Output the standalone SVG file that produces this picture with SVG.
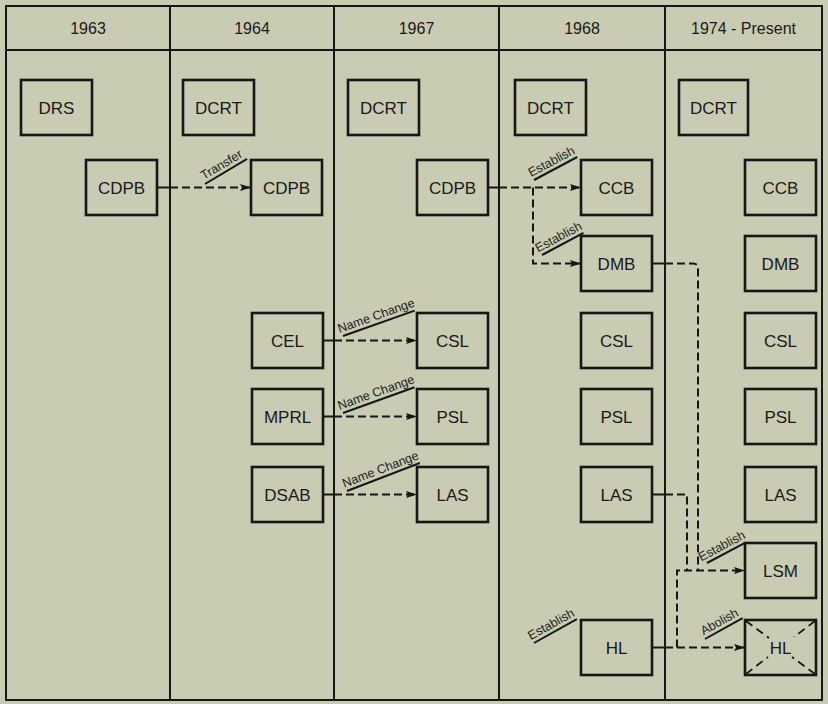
<svg xmlns="http://www.w3.org/2000/svg" width="828" height="704" viewBox="0 0 828 704">
<style>
.bg{fill:#c9cbb2}
.frame{fill:none;stroke:#161616;stroke-width:2}
.col{stroke:#161616;stroke-width:2}
.box{fill:none;stroke:#161616;stroke-width:2.6}
.hd{font-family:"Liberation Sans",Arial,sans-serif;font-size:16px;fill:#1a1a1a;text-anchor:middle}
.nt{font-family:"Liberation Sans",Arial,sans-serif;font-size:17px;fill:#1a1a1a;text-anchor:middle}
.lt{font-family:"Liberation Sans",Arial,sans-serif;font-size:12.5px;fill:#222;text-anchor:middle}
.ll{stroke:#161616;stroke-width:2}
.stub{stroke:#161616;stroke-width:2;fill:none}
.dash{stroke:#161616;stroke-width:2;fill:none;stroke-dasharray:8 4}
.xd{stroke:#161616;stroke-width:1.8;stroke-dasharray:8 5}
</style>
<defs>
<marker id="arr" viewBox="0 0 11 8" refX="11" refY="4" markerWidth="11" markerHeight="8" markerUnits="userSpaceOnUse" orient="auto">
<path d="M0,0.5 L11,4 L0,7.5 L2,4 z" fill="#161616"/>
</marker>
</defs>
<rect class="bg" x="0" y="0" width="828" height="704"/>
<g id="frame">
<rect class="frame" x="6" y="6" width="816" height="694"/>
<line class="col" x1="6" y1="50" x2="822" y2="50"/>
<line class="col" x1="170" y1="6" x2="170" y2="700"/>
<line class="col" x1="334" y1="6" x2="334" y2="700"/>
<line class="col" x1="499" y1="6" x2="499" y2="700"/>
<line class="col" x1="665" y1="6" x2="665" y2="700"/>
<text class="hd" x="88" y="34">1963</text>
<text class="hd" x="252" y="34">1964</text>
<text class="hd" x="416.5" y="34">1967</text>
<text class="hd" x="582" y="34">1968</text>
<text class="hd" x="743.5" y="34">1974 - Present</text>
</g>
<g id="connectors">
<path class="stub" d="M157,187.5 H170"/>
<path class="dash" d="M170,187.5 H251" marker-end="url(#arr)"/>
<path class="stub" d="M488,187.5 H499"/>
<path class="dash" d="M499,187.5 H581" marker-end="url(#arr)"/>
<path class="dash" d="M533,187.5 V263.5 H581" marker-end="url(#arr)"/>
<path class="stub" d="M323,340.5 H334"/>
<path class="dash" d="M334,340.5 H417" marker-end="url(#arr)"/>
<path class="stub" d="M323,416.5 H334"/>
<path class="dash" d="M334,416.5 H417" marker-end="url(#arr)"/>
<path class="stub" d="M323,494.5 H334"/>
<path class="dash" d="M334,494.5 H417" marker-end="url(#arr)"/>
<path class="stub" d="M652,263.5 H665"/>
<path class="dash" d="M665,263.5 H693 Q698,263.5 698,268.5 V570.5"/>
<path class="stub" d="M652,494.5 H665"/>
<path class="dash" d="M665,494.5 H687 V570.5"/>
<path class="stub" d="M652,647.5 H665"/>
<path class="dash" d="M665,647.5 H745" marker-end="url(#arr)"/>
<path class="dash" d="M677,647.5 V570.5 H745" marker-end="url(#arr)"/>
</g>
<g id="labels">
<g transform="translate(205,184) rotate(-30.8)"><line class="ll" x1="0" y1="0" x2="49" y2="0"/><text class="lt" x="24" y="-4">Transfer</text></g>
<g transform="translate(534,180) rotate(-28)"><line class="ll" x1="0" y1="0" x2="49" y2="0"/><text class="lt" x="24" y="-4">Establish</text></g>
<g transform="translate(542,255) rotate(-28)"><line class="ll" x1="0" y1="0" x2="47" y2="0"/><text class="lt" x="23" y="-4">Establish</text></g>
<g transform="translate(343,336) rotate(-19.5)"><line class="ll" x1="0" y1="0" x2="76" y2="0"/><text class="lt" x="38" y="-4">Name Change</text></g>
<g transform="translate(343,413) rotate(-19.8)"><line class="ll" x1="0" y1="0" x2="76" y2="0"/><text class="lt" x="38" y="-4">Name Change</text></g>
<g transform="translate(347,491) rotate(-21)"><line class="ll" x1="0" y1="0" x2="78" y2="0"/><text class="lt" x="39" y="-4">Name Change</text></g>
<g transform="translate(707,563) rotate(-28)"><line class="ll" x1="0" y1="0" x2="43" y2="0"/><text class="lt" x="21" y="-4">Establish</text></g>
<g transform="translate(705,639) rotate(-29)"><line class="ll" x1="0" y1="0" x2="43" y2="0"/><text class="lt" x="21" y="-4">Abolish</text></g>
<g transform="translate(534,643) rotate(-29)"><line class="ll" x1="0" y1="0" x2="49" y2="0"/><text class="lt" x="24" y="-4">Establish</text></g>
</g>
<g id="n1963-DRS"><rect class="box" x="21" y="80" width="71" height="55"/><text class="nt" x="56.5" y="114">DRS</text></g>
<g id="n1963-CDPB"><rect class="box" x="86" y="160" width="71" height="55"/><text class="nt" x="121.5" y="194">CDPB</text></g>
<g id="n1964-DCRT"><rect class="box" x="183" y="80" width="71" height="55"/><text class="nt" x="218.5" y="114">DCRT</text></g>
<g id="n1964-CDPB"><rect class="box" x="251" y="160" width="71" height="55"/><text class="nt" x="286.5" y="194">CDPB</text></g>
<g id="n1964-CEL"><rect class="box" x="252" y="313" width="71" height="55"/><text class="nt" x="287.5" y="347">CEL</text></g>
<g id="n1964-MPRL"><rect class="box" x="252" y="389" width="71" height="55"/><text class="nt" x="287.5" y="423">MPRL</text></g>
<g id="n1964-DSAB"><rect class="box" x="252" y="467" width="71" height="55"/><text class="nt" x="287.5" y="501">DSAB</text></g>
<g id="n1967-DCRT"><rect class="box" x="348" y="80" width="71" height="55"/><text class="nt" x="383.5" y="114">DCRT</text></g>
<g id="n1967-CDPB"><rect class="box" x="417" y="160" width="71" height="55"/><text class="nt" x="452.5" y="194">CDPB</text></g>
<g id="n1967-CSL"><rect class="box" x="417" y="313" width="71" height="55"/><text class="nt" x="452.5" y="347">CSL</text></g>
<g id="n1967-PSL"><rect class="box" x="417" y="389" width="71" height="55"/><text class="nt" x="452.5" y="423">PSL</text></g>
<g id="n1967-LAS"><rect class="box" x="417" y="467" width="71" height="55"/><text class="nt" x="452.5" y="501">LAS</text></g>
<g id="n1968-DCRT"><rect class="box" x="515" y="80" width="71" height="55"/><text class="nt" x="550.5" y="114">DCRT</text></g>
<g id="n1968-CCB"><rect class="box" x="581" y="160" width="71" height="55"/><text class="nt" x="616.5" y="194">CCB</text></g>
<g id="n1968-DMB"><rect class="box" x="581" y="236" width="71" height="55"/><text class="nt" x="616.5" y="270">DMB</text></g>
<g id="n1968-CSL"><rect class="box" x="581" y="313" width="71" height="55"/><text class="nt" x="616.5" y="347">CSL</text></g>
<g id="n1968-PSL"><rect class="box" x="581" y="389" width="71" height="55"/><text class="nt" x="616.5" y="423">PSL</text></g>
<g id="n1968-LAS"><rect class="box" x="581" y="467" width="71" height="55"/><text class="nt" x="616.5" y="501">LAS</text></g>
<g id="n1968-HL"><rect class="box" x="581" y="620" width="71" height="55"/><text class="nt" x="616.5" y="654">HL</text></g>
<g id="n1974-DCRT"><rect class="box" x="679" y="80" width="69" height="55"/><text class="nt" x="713.5" y="114">DCRT</text></g>
<g id="n1974-CCB"><rect class="box" x="745" y="160" width="71" height="55"/><text class="nt" x="780.5" y="194">CCB</text></g>
<g id="n1974-DMB"><rect class="box" x="745" y="236" width="71" height="55"/><text class="nt" x="780.5" y="270">DMB</text></g>
<g id="n1974-CSL"><rect class="box" x="745" y="313" width="71" height="55"/><text class="nt" x="780.5" y="347">CSL</text></g>
<g id="n1974-PSL"><rect class="box" x="745" y="389" width="71" height="55"/><text class="nt" x="780.5" y="423">PSL</text></g>
<g id="n1974-LAS"><rect class="box" x="745" y="467" width="71" height="55"/><text class="nt" x="780.5" y="501">LAS</text></g>
<g id="n1974-LSM"><rect class="box" x="745" y="543" width="71" height="55"/><text class="nt" x="780.5" y="577">LSM</text></g>
<g id="n1974-HL"><rect class="box" x="745" y="620" width="71" height="55"/>
<line class="xd" x1="746" y1="621" x2="769" y2="638"/><line class="xd" x1="815" y1="674" x2="792" y2="657"/>
<line class="xd" x1="815" y1="621" x2="794" y2="637"/><line class="xd" x1="746" y1="674" x2="768" y2="657"/>
<text class="nt" x="780.5" y="654">HL</text></g>
</svg>
